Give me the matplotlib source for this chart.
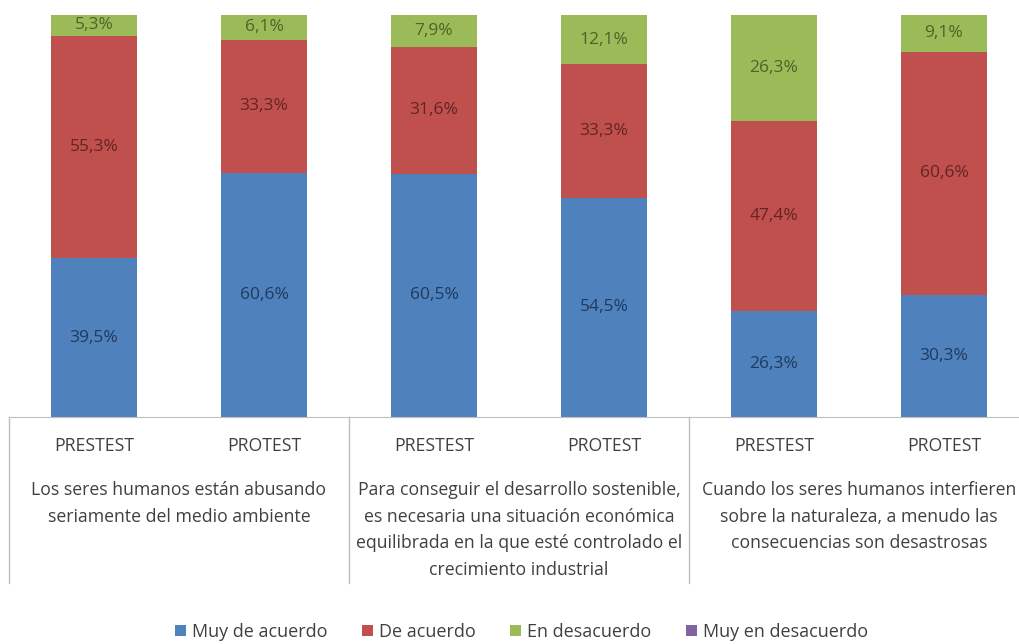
import matplotlib.pyplot as plt
import numpy as np

plt.rcParams['font.family'] = ['Open Sans', 'DejaVu Sans']

tests = ['PRESTEST', 'PROTEST', 'PRESTEST', 'PROTEST', 'PRESTEST', 'PROTEST']
groups = ['Los seres humanos están abusando\nseriamente del medio ambiente',
          'Para conseguir el desarrollo sostenible,\nes necesaria una situación económica\nequilibrada en la que esté controlado el\ncrecimiento industrial',
          'Cuando los seres humanos interfieren\nsobre la naturaleza, a menudo las\nconsecuencias son desastrosas']

series = ['Muy de acuerdo', 'De acuerdo', 'En desacuerdo', 'Muy en desacuerdo']
muy_de_acuerdo = [39.5, 60.6, 60.5, 54.5, 26.3, 30.3]
de_acuerdo = [55.3, 33.3, 31.6, 33.3, 47.4, 60.6]
en_desacuerdo = [5.3, 6.1, 7.9, 12.1, 26.3, 9.1]
muy_en_desacuerdo = [0, 0, 0, 0, 0, 0]

colors = ['#4F81BD', '#C0504D', '#9BBB59', '#8064A2']
text_colors = ['#1F3A5F', '#632523', '#4F6228', '#3F3151']

W, H = 1019, 644
fig = plt.figure(figsize=(W / 100, H / 100), dpi=100)
ax = fig.add_axes([9 / W, (H - 417) / H, (1019 - 9) / W, 402 / H])

x = np.arange(len(tests))
data = [muy_de_acuerdo, de_acuerdo, en_desacuerdo, muy_en_desacuerdo]
bottom = np.zeros(len(tests))
for vals, c, tc, name in zip(data, colors, text_colors, series):
    vals = np.array(vals)
    ax.bar(x, vals, 0.51, bottom=bottom, color=c, label=name)
    for xi, b, v in zip(x, bottom, vals):
        if v > 0:
            ax.text(xi, b + v / 2, ('%.1f%%' % v).replace('.', ','), ha='center', va='center',
                    fontsize=12.5, color=tc)
    bottom = bottom + vals

ax.set_xlim(-0.5, -0.5 + (1019 - 9) / 170)
ax.set_ylim(0, 100)
for s in ['top', 'right', 'left']:
    ax.spines[s].set_visible(False)
ax.spines['bottom'].set_color('#BFBFBF')
ax.set_xticks([])
ax.set_yticks([])

# separadores verticales del eje de categorias
tr = ax.get_xaxis_transform()
px = 1 / 402
for xs in [-0.5, 1.5, 3.5]:
    ax.plot([xs, xs], [0, -(583 - 417) * px], color='#BFBFBF', lw=1, transform=tr, clip_on=False)

for xi, t in zip(x, tests):
    ax.text(xi, -(446 - 417) * px, t, ha='center', va='center', fontsize=12.7,
            color='#404040', transform=tr)

for gi, g in enumerate(groups):
    ax.text(2 * gi + 0.5, -(481 - 417) * px, g, ha='center', va='top', fontsize=12.7,
            color='#404040', transform=tr, linespacing=1.62)

fig.legend(loc='center', bbox_to_anchor=(0.5 + 12 / W, (H - 632) / H), ncol=4, frameon=False,
           fontsize=13, handlelength=0.6, handleheight=0.6, columnspacing=1.9,
           handletextpad=0.35, labelcolor='#404040')

fig.savefig('out.png', dpi=100)
